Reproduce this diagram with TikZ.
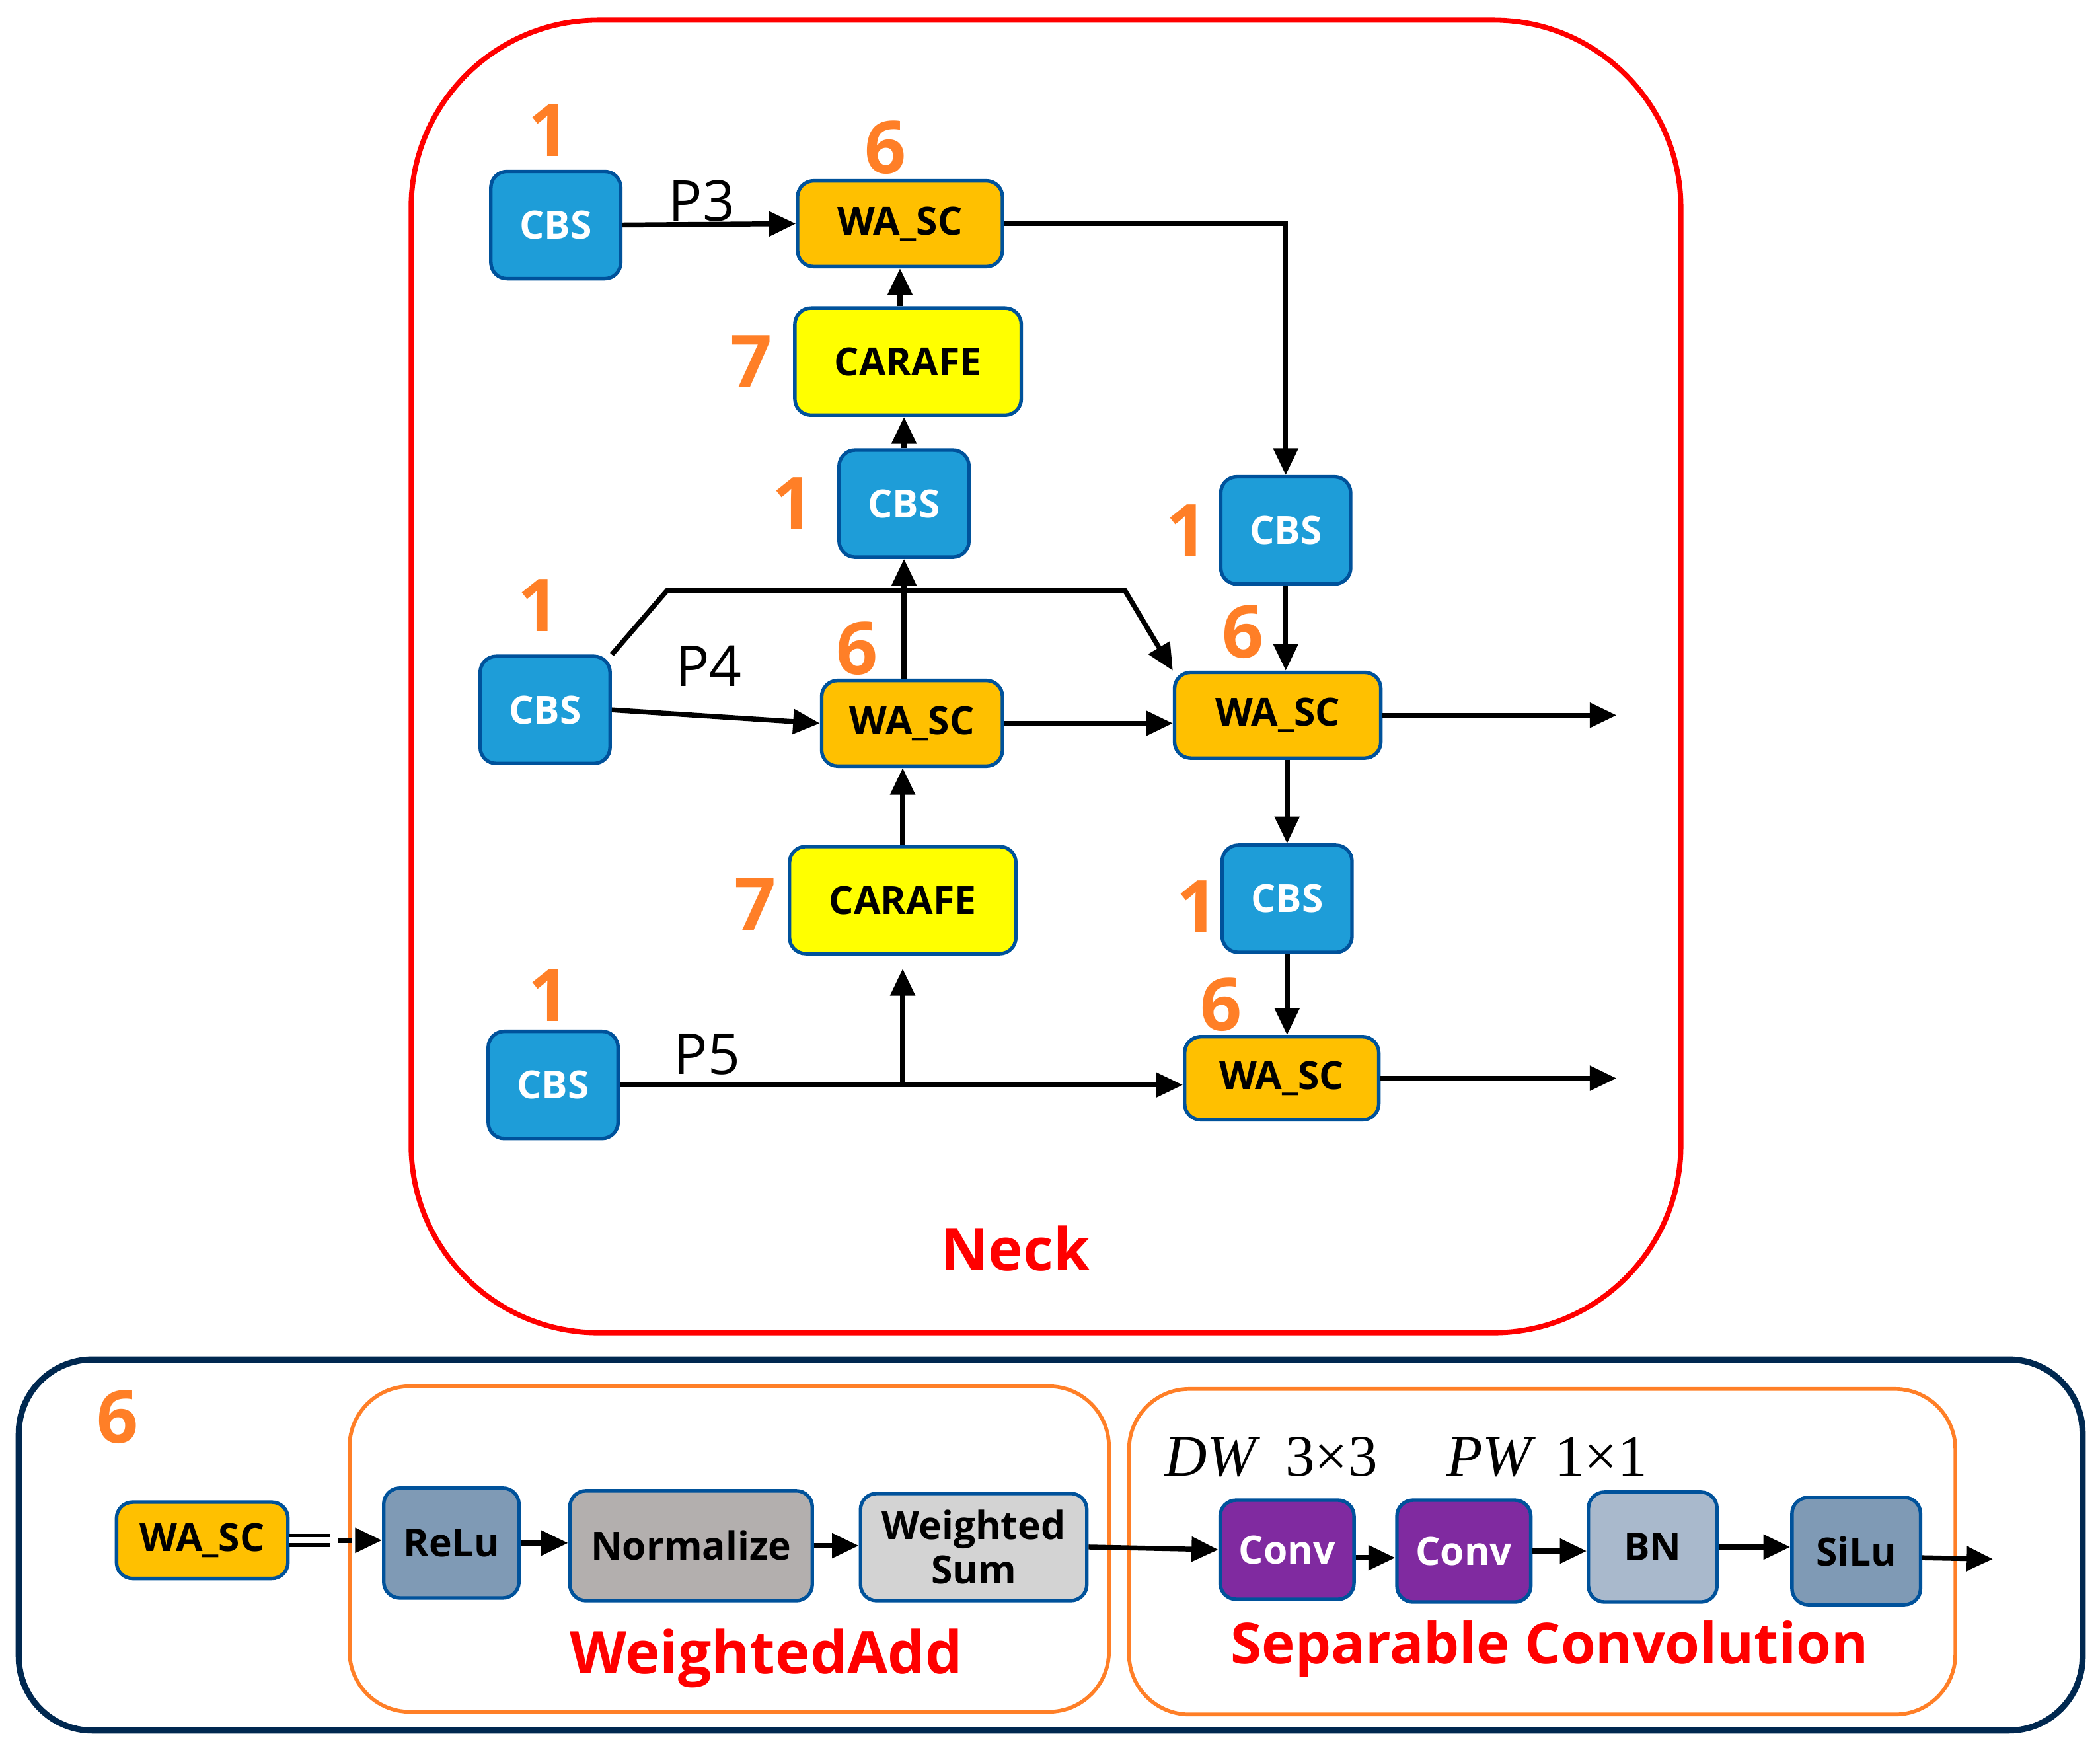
\RequirePackage{fix-cm}
\documentclass[tikz,border=0pt]{standalone}
\usepackage{fontspec}
\setmainfont{Open Sans}
\newfontfamily\timesfont{Liberation Serif}
\usetikzlibrary{arrows.meta}
\definecolor{boxline}{RGB}{0,82,155}
\definecolor{cbsblue}{RGB}{30,157,216}
\definecolor{wascamber}{RGB}{255,192,0}
\definecolor{carafeyel}{RGB}{255,255,0}
\definecolor{numorange}{RGB}{255,127,39}
\definecolor{reluslate}{RGB}{127,154,181}
\definecolor{normgrey}{RGB}{179,175,174}
\definecolor{wsumgrey}{RGB}{211,211,211}
\definecolor{convpurple}{RGB}{128,42,160}
\definecolor{bnblue}{RGB}{169,185,204}
\definecolor{framenavy}{RGB}{0,40,80}
\definecolor{neckred}{RGB}{255,0,0}
\begin{document}
\begin{tikzpicture}[x=0.2mm,y=-0.2mm,
    box/.style={draw=boxline,line width=1.5pt,rounded corners=0.24cm,inner sep=0pt,align=center,
        font=\fontsize{16.5}{19}\selectfont\bfseries},
    cbs/.style={box,fill=cbsblue,text=white,minimum width=1.94cm,minimum height=1.6cm},
    wasc/.style={box,fill=wascamber,minimum height=1.28cm},
    carafe/.style={box,fill=carafeyel,minimum width=3.38cm,minimum height=1.6cm},
    num/.style={text=numorange,inner sep=0pt,font=\fontsize{31}{33}\selectfont\bfseries},
    plbl/.style={inner sep=0pt,font=\fontsize{24}{26}\selectfont},
    redlbl/.style={text=neckred,inner sep=0pt,font=\fontsize{25}{28}\selectfont\bfseries},
    kernel/.style={inner sep=0pt,font=\fontsize{25}{28}\timesfont},
    arr/.style={-{Triangle[length=0.4cm,width=0.36cm]},line width=2.1pt},
    grp/.style={draw=numorange,line width=1.6pt,rounded corners=0.9cm}]
    \useasboundingbox (0,0) rectangle (1568,1302);
    \draw [neckred,line width=2.2pt,rounded corners=2.8cm] (307,15) rectangle (1255,995);
    \draw [framenavy,line width=2.6pt,rounded corners=1.1cm] (14,1015) rectangle (1555,1292);
    \draw [grp] (261,1035) rectangle (828,1278);
    \draw [grp] (843,1037) rectangle (1460,1280);
    % neck
    \node [cbs] (cbsA) at (415,168) {CBS};
    \node [num] (nA) at (410,97) {1};
    \node [wasc,minimum width=3.06cm] (wascA) at (672,167) {WA\_SC};
    \node [num] (nB) at (661,110) {6};
    \node [plbl] (pA) at (524,150) {P3};
    \node [carafe] (carA) at (678,270) {CARAFE};
    \node [num] (nC) at (561,270) {7};
    \node [cbs] (cbsM) at (675,376) {CBS};
    \node [num] (nD) at (592,376) {1};
    \node [cbs] (cbsR) at (960,396) {CBS};
    \node [num] (nE) at (886,396) {1};
    \node [cbs] (cbsL) at (407,530) {CBS};
    \node [num] (nF) at (402,452) {1};
    \node [plbl] (pB) at (529,497) {P4};
    \node [wasc,minimum width=2.7cm] (wascB) at (681,540) {WA\_SC};
    \node [num] (nG) at (640,484) {6};
    \node [wasc,minimum width=3.08cm] (wascR) at (954,534) {WA\_SC};
    \node [num] (nH) at (928,472) {6};
    \node [carafe] (carB) at (674,672) {CARAFE};
    \node [num] (nI) at (564,675) {7};
    \node [cbs] (cbsR2) at (961,671) {CBS};
    \node [num] (nJ) at (894,677) {1};
    \node [cbs] (cbsB) at (413,810) {CBS};
    \node [num] (nK) at (410,743) {1};
    \node [plbl] (pC) at (528,787) {P5};
    \node [wasc,minimum width=2.9cm,minimum height=1.24cm] (wascC) at (957,805) {WA\_SC};
    \node [num] (nL) at (912,750) {6};
    \node [redlbl] (neck) at (758,932) {Neck};
    \coordinate (bendA) at (498,441);
    \coordinate (bendB) at (840,441);
    \coordinate (outR) at (1207,534);
    \coordinate (outC) at (wascC.east -| outR);
    \coordinate (split) at (cbsB.east -| carB.south);
    \draw [arr] (cbsA.east) -- (wascA.west);
    \draw [arr] (wascA.east) -| (cbsR.north);
    \draw [arr] (carA.north -| wascA.south) -- (wascA.south);
    \draw [arr] (cbsM.north) -- (cbsM.north |- carA.south);
    \draw [arr] (wascB.north -| cbsM.south) -- (cbsM.south);
    \draw [arr] (cbsL.north east) -- (bendA) -- (bendB) -- (wascR.north west);
    \draw [arr] (cbsL.east) -- (wascB.west);
    \draw [arr] (wascB.east) -- (wascB.east -| wascR.west);
    \draw [arr] (carB.north) -- (carB.north |- wascB.south);
    \draw [arr] (cbsR.south) -- (cbsR.south |- wascR.north);
    \draw [arr] (wascR.east) -- (outR);
    \draw [arr] (wascR.south -| cbsR2.north) -- (cbsR2.north);
    \draw [arr] (cbsR2.south) -- (cbsR2.south |- wascC.north);
    \draw [arr] (cbsB.east) -- (cbsB.east -| wascC.west);
    \draw [arr,shorten >=0.2cm] (split) -- (carB.south);
    \draw [arr] (wascC.east) -- (outC);
    % WA_SC block
    \node [num] (nM) at (88,1058) {6};
    \node [wasc,minimum width=2.56cm,minimum height=1.14cm] (wascS) at (151,1150) {WA\_SC};
    \node [box,fill=reluslate,minimum width=2.02cm,minimum height=1.64cm] (relu) at (337,1152) {ReLu};
    \node [box,fill=normgrey,minimum width=3.62cm,minimum height=1.64cm] (norm) at (516,1154) {Normalize};
    \node [box,fill=wsumgrey,minimum width=3.38cm,minimum height=1.6cm] (wsum) at (727,1155) {Weighted\\Sum};
    \node [box,fill=convpurple,text=white,minimum width=2cm,minimum height=1.48cm] (convA) at (961,1157) {Conv};
    \node [box,fill=convpurple,text=white,minimum width=2cm,minimum height=1.52cm] (convB) at (1093,1158) {Conv};
    \node [box,fill=bnblue,minimum width=1.92cm,minimum height=1.64cm] (bn) at (1234,1155) {BN};
    \node [box,fill=reluslate,minimum width=1.92cm,minimum height=1.6cm] (silu) at (1386,1158) {SiLu};
    \node [kernel] (dw) at (949,1088) {\itshape DW\upshape\hspace{0.5em}3×3};
    \node [kernel] (pw) at (1155,1088) {\itshape PW\upshape\hspace{0.4em}1×1};
    \node [redlbl] (wadd) at (572,1238) {WeightedAdd};
    \node [redlbl,font=\fontsize{24}{27}\selectfont\bfseries] (sepconv) at (1157,1231) {Separable Convolution};
    \coordinate (eqA) at ([xshift=0.6cm]wascS.east);
    \coordinate (outS) at (1488,1164);
    \draw [line width=1.6pt,double distance=2.6pt] (wascS.east) -- (eqA);
    \draw [arr,dash pattern=on 0.2cm off 0.12cm] ([xshift=0.12cm]eqA) -- (eqA -| relu.west);
    \draw [arr] (relu.east) -- (relu.east -| norm.west);
    \draw [arr] (norm.east) -- (norm.east -| wsum.west);
    \draw [arr] (wsum.east) -- (convA.west);
    \draw [arr] ([yshift=-0.12cm]convA.east) -- ([yshift=-0.12cm]convA.east -| convB.west);
    \draw [arr] (convB.east) -- (convB.east -| bn.west);
    \draw [arr] (bn.east) -- (bn.east -| silu.west);
    \draw [arr] ([yshift=-0.1cm]silu.east) -- (outS);
\end{tikzpicture}
\end{document}
